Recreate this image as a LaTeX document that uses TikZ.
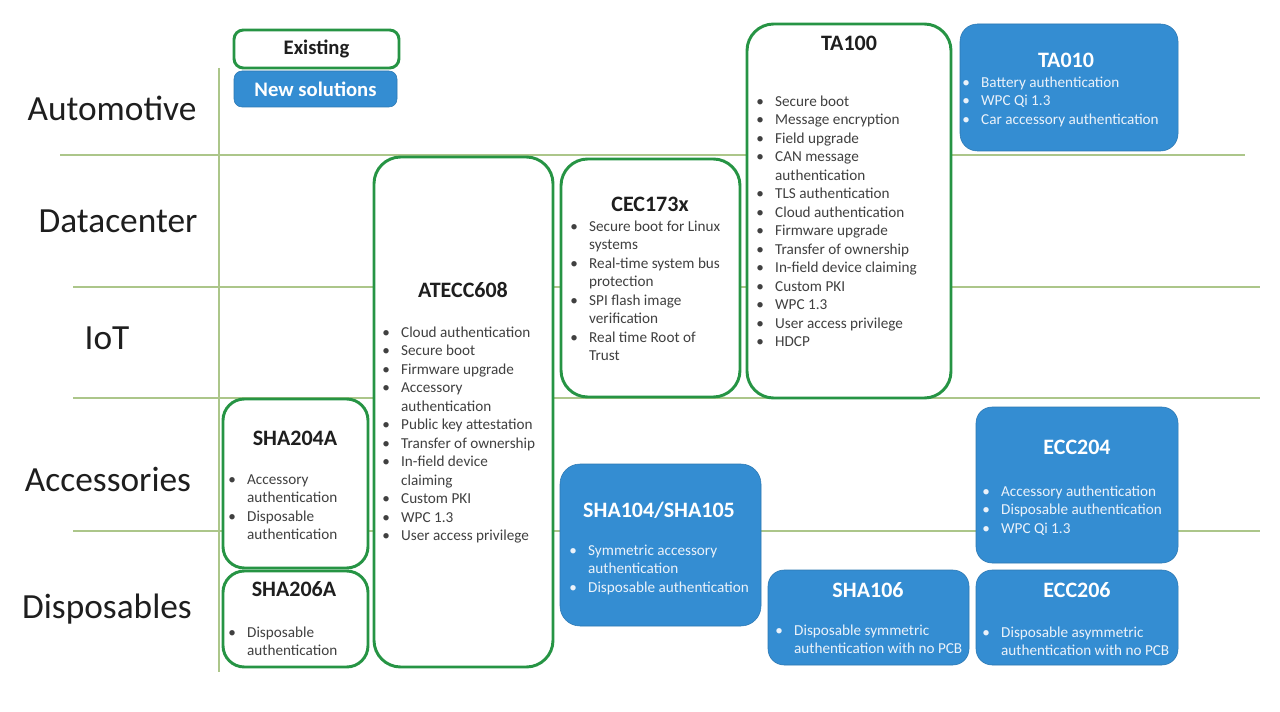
\documentclass[tikz,border=0pt]{standalone}
\usepackage{fontspec}
\setmainfont{Carlito}
\usetikzlibrary{fit}
\definecolor{gr}{RGB}{38,148,68}
\definecolor{bl}{RGB}{52,141,210}
\definecolor{gl}{RGB}{172,198,138}
\definecolor{tx}{RGB}{30,30,30}
\definecolor{wt}{RGB}{235,242,250}
\newcommand{\itm}[1]{\textbullet & #1\\}
\newcommand{\cnt}[1]{& #1\\}
\newenvironment{blist}{\fontsize{11.4}{13.85}\selectfont\renewcommand{\arraystretch}{1}\begin{tabular}[t]{@{}l@{\hspace{8.5pt}}l@{}}}{\end{tabular}}
\tikzset{
  gbox/.style={draw=gr, line width=2.2pt, fill=white, inner sep=0pt, rounded corners=#1},
  gbox/.default=14pt,
  bbox/.style={fill=bl, draw=bl!85!black, line width=0.4pt, inner sep=0pt, rounded corners=#1},
  bbox/.default=11pt,
  gline/.style={draw=gl, line width=1.6pt},
  rowlab/.style={font=\fontsize{26.5}{30}\selectfont, text=tx, anchor=center, inner sep=0pt},
  gtitle/.style={font=\fontsize{16.5}{19}\selectfont\bfseries, text=tx, anchor=center, inner sep=0pt},
  btitle/.style={font=\fontsize{16.5}{19}\selectfont\bfseries, text=white, anchor=center, inner sep=0pt},
  legtitle/.style={font=\fontsize{15.5}{18}\selectfont\bfseries, anchor=center, inner sep=0pt},
  gbody/.style={anchor=base west, inner sep=0pt, text=tx!85!white},
  bbody/.style={anchor=base west, inner sep=0pt, text=wt},
}
\begin{document}
\begin{tikzpicture}[x=0.75pt,y=-0.75pt]
\useasboundingbox (0,0) rectangle (1280,712);
\fill[white] (0,0) rectangle (1280,712);
% grid
\coordinate (h1a) at (60,155);  \coordinate (h1b) at (1245,155);
\coordinate (h2a) at (73,287);  \coordinate (h2b) at (1260,287);
\coordinate (h3a) at (73,398);  \coordinate (h3b) at (1260,398);
\coordinate (h4a) at (73,531);  \coordinate (h4b) at (1260,531);
\coordinate (v1a) at (219,68);  \coordinate (v1b) at (219,672);
\draw[gline] (h1a) -- (h1b);
\draw[gline] (h2a) -- (h2b);
\draw[gline] (h3a) -- (h3b);
\draw[gline] (h4a) -- (h4b);
\draw[gline] (v1a) -- (v1b);
% row labels
\node[rowlab] (rAuto) at (112,108) {Automotive};
\node[rowlab] (rData) at (118,221) {Datacenter};
\node[rowlab] (rIoT) at (107,338) {IoT};
\node[rowlab] (rAcc) at (108,479) {Accessories};
\node[rowlab] (rDisp) at (107,609) {Disposables};
% legend
\node[gbox=7pt, fit={(234,30) (399,68)}] (legE) {};
\node[legtitle, text=tx] (legEt) at (legE.center) {Existing};
\node[bbox=6pt, fit={(234,71) (397,107)}] (legN) {};
\node[legtitle, text=white] (legNt) at (legN.center) {New solutions};
% ATECC608
\node[gbox=20pt, fit={(374,157) (553,667)}] (atecc) {};
\node[gtitle] (atecct) at (463,290) {ATECC608};
\node[gbody] (ateccb) at (382,337.5) {\begin{blist}
\itm{Cloud authentication}
\itm{Secure boot}
\itm{Firmware upgrade}
\itm{Accessory}
\cnt{authentication}
\itm{Public key attestation}
\itm{Transfer of ownership}
\itm{In-field device}
\cnt{claiming}
\itm{Custom PKI}
\itm{WPC 1.3}
\itm{User access privilege}
\end{blist}};
% CEC173x
\node[gbox=20pt, fit={(561,159) (740,397)}] (cec) {};
\node[gtitle] (cect) at (650,204) {CEC173x};
\node[gbody] (cecb) at (570,231.5) {\begin{blist}
\itm{Secure boot for Linux}
\cnt{systems}
\itm{Real-time system bus}
\cnt{protection}
\itm{SPI flash image}
\cnt{verification}
\itm{Real time Root of}
\cnt{Trust}
\end{blist}};
% TA100
\node[gbox=20pt, fit={(747,24) (951,398)}] (ta100) {};
\node[gtitle] (ta100t) at (849,43) {TA100};
\node[gbody] (ta100b) at (756,106.5) {\begin{blist}
\itm{Secure boot}
\itm{Message encryption}
\itm{Field upgrade}
\itm{CAN message}
\cnt{authentication}
\itm{TLS authentication}
\itm{Cloud authentication}
\itm{Firmware upgrade}
\itm{Transfer of ownership}
\itm{In-field device claiming}
\itm{Custom PKI}
\itm{WPC 1.3}
\itm{User access privilege}
\itm{HDCP}
\end{blist}};
% TA010
\node[bbox=13pt, fit={(960,24) (1178,151)}] (ta010) {};
\node[btitle] (ta010t) at (1066,60) {TA010};
\node[bbody] (ta010b) at (962,87.5) {\begin{blist}
\itm{Battery authentication}
\itm{WPC Qi 1.3}
\itm{Car accessory authentication}
\end{blist}};
% SHA204A
\node[gbox=16pt, fit={(223,399) (368,568)}] (sha204) {};
\node[gtitle] (sha204t) at (295,438) {SHA204A};
\node[gbody] (sha204b) at (228,484.5) {\begin{blist}
\itm{Accessory}
\cnt{authentication}
\itm{Disposable}
\cnt{authentication}
\end{blist}};
% SHA206A
\node[gbox=16pt, fit={(223,571) (368,667)}] (sha206) {};
\node[gtitle] (sha206t) at (294,589) {SHA206A};
\node[gbody] (sha206b) at (228,637.5) {\begin{blist}
\itm{Disposable}
\cnt{authentication}
\end{blist}};
% SHA104/SHA105
\node[bbox=15pt, fit={(560,464) (761,626)}] (sha104) {};
\node[btitle] (sha104t) at (659,510) {SHA104/SHA105};
\node[bbody] (sha104b) at (569,555.5) {\begin{blist}
\itm{Symmetric accessory}
\cnt{authentication}
\itm{Disposable authentication}
\end{blist}};
% SHA106
\node[bbox=12pt, fit={(768,570) (969,665)}] (sha106) {};
\node[btitle] (sha106t) at (868,590) {SHA106};
\node[bbody] (sha106b) at (775,635.5) {\begin{blist}
\itm{Disposable symmetric}
\cnt{authentication with no PCB}
\end{blist}};
% ECC204
\node[bbox=12pt, fit={(976,407) (1178,563)}] (ecc204) {};
\node[btitle] (ecc204t) at (1077,447) {ECC204};
\node[bbody] (ecc204b) at (982,496.5) {\begin{blist}
\itm{Accessory authentication}
\itm{Disposable authentication}
\itm{WPC Qi 1.3}
\end{blist}};
% ECC206
\node[bbox=12pt, fit={(976,570) (1178,665)}] (ecc206) {};
\node[btitle] (ecc206t) at (1077,590) {ECC206};
\node[bbody] (ecc206b) at (982,637.5) {\begin{blist}
\itm{Disposable asymmetric}
\cnt{authentication with no PCB}
\end{blist}};
\end{tikzpicture}
\end{document}
